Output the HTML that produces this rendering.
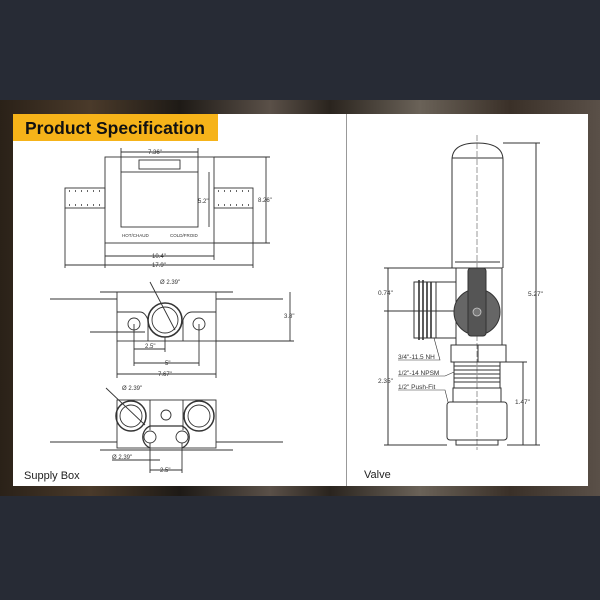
<!DOCTYPE html>
<html><head><meta charset="utf-8"><style>
html,body{margin:0;padding:0;width:600px;height:600px;overflow:hidden;background:#272b35;font-family:"Liberation Sans",sans-serif}
.band{position:absolute;left:0;top:100px;width:600px;height:396px;background:linear-gradient(90deg,#2a2118 0%,#4a3a2a 15%,#1e1a16 30%,#5a5048 45%,#2a241e 55%,#6a6258 70%,#3a3028 85%,#5a5048 100%)}
svg{position:absolute;left:0;top:0}
</style></head><body>
<div class="band"></div>
<svg width="600" height="600" viewBox="0 0 600 600" font-family="Liberation Sans, sans-serif">
<rect x="13" y="114" width="575" height="372" fill="#fff"/>
<line x1="346.5" y1="114" x2="346.5" y2="486" stroke="#999" stroke-width="1"/>
<rect x="13" y="114" width="205" height="27" fill="#f6b319"/>
<text x="25" y="134" font-size="17.5" font-weight="bold" fill="#111">Product Specification</text>

<g stroke="#333" stroke-width="0.9" fill="none">
<!-- top view -->
<rect x="105" y="157" width="109" height="86"/>
<rect x="121" y="172" width="77" height="55"/>
<rect x="139" y="160" width="41" height="9"/>
<rect x="65" y="188" width="40" height="20"/>
<rect x="214" y="188" width="39" height="20"/>
<path d="M69 191h1M75 191h1M81 191h1M87 191h1M93 191h1M99 191h1M69 205h1M75 205h1M81 205h1M87 205h1M93 205h1M99 205h1M218 191h1M224 191h1M230 191h1M236 191h1M242 191h1M248 191h1M218 205h1M224 205h1M230 205h1M236 205h1M242 205h1M248 205h1" stroke-width="1.5"/>
<line x1="121" y1="152" x2="198" y2="152"/><line x1="121" y1="148" x2="121" y2="172"/><line x1="198" y1="148" x2="198" y2="172"/>
<line x1="209" y1="172" x2="209" y2="227"/>
<line x1="266" y1="157" x2="266" y2="243"/><line x1="214" y1="157" x2="270" y2="157"/><line x1="214" y1="243" x2="270" y2="243"/>
<line x1="105" y1="256" x2="214" y2="256"/><line x1="105" y1="243" x2="105" y2="268"/><line x1="214" y1="243" x2="214" y2="260"/>
<line x1="65" y1="265" x2="253" y2="265"/><line x1="65" y1="208" x2="65" y2="268"/><line x1="253" y1="208" x2="253" y2="268"/>
<!-- front view -->
<line x1="100" y1="292" x2="233" y2="292"/>
<line x1="50" y1="299" x2="117" y2="299"/><line x1="216" y1="299" x2="283" y2="299"/>
<rect x="117" y="292" width="99" height="49"/>
<path d="M117 312 H140 Q145 312 148 320 V341 M216 312 H192 Q186 312 183 320 V341"/>
<circle cx="165" cy="320" r="17" stroke-width="1.6"/><circle cx="165" cy="320" r="13"/>
<circle cx="134" cy="324" r="6"/><circle cx="199" cy="324" r="6"/>
<line x1="90" y1="332" x2="145" y2="332"/>
<line x1="290" y1="292" x2="290" y2="341"/><line x1="216" y1="341" x2="294" y2="341"/>
<line x1="134" y1="349" x2="165" y2="349"/><line x1="134" y1="324" x2="134" y2="366"/><line x1="165" y1="337" x2="165" y2="352"/>
<line x1="134" y1="363" x2="199" y2="363"/><line x1="199" y1="324" x2="199" y2="366"/>
<line x1="117" y1="374" x2="216" y2="374"/><line x1="117" y1="341" x2="117" y2="378"/><line x1="216" y1="341" x2="216" y2="378"/>
<line x1="150" y1="282" x2="175" y2="330"/>
<!-- bottom view -->
<rect x="117" y="400" width="99" height="48"/>
<line x1="150" y1="400" x2="150" y2="430"/><line x1="183" y1="400" x2="183" y2="430"/>
<circle cx="131" cy="416" r="15" stroke-width="1.5"/><circle cx="131" cy="416" r="11"/>
<circle cx="199" cy="416" r="15" stroke-width="1.5"/><circle cx="199" cy="416" r="11"/>
<circle cx="166" cy="415" r="5"/>
<path d="M150 448 A12 12 0 0 1 150 426 H182 A12 12 0 0 1 182 448" stroke-width="1.3"/>
<circle cx="150" cy="437" r="6"/><circle cx="182" cy="437" r="6"/>
<line x1="50" y1="442" x2="117" y2="442"/><line x1="216" y1="442" x2="283" y2="442"/>
<line x1="100" y1="450" x2="233" y2="450"/>
<line x1="106" y1="388" x2="145" y2="425"/>
<line x1="112" y1="460" x2="160" y2="460"/>
<line x1="150" y1="470" x2="182" y2="470"/><line x1="150" y1="443" x2="150" y2="473"/><line x1="182" y1="443" x2="182" y2="473"/>
</g>
<g font-size="6" fill="#333">
<text x="148" y="154">7.36"</text>
<text x="198" y="203">5.2"</text>
<text x="258" y="202">8.26"</text>
<text x="152" y="258">10.4"</text>
<text x="152" y="267">17.9"</text>
<text x="122" y="237" font-size="4.5">HOT/CHAUD</text>
<text x="170" y="237" font-size="4.5">COLD/FROID</text>
<text x="160" y="284">Ø 2.39"</text>
<text x="284" y="318">3.8"</text>
<text x="145" y="348">2.5"</text>
<text x="165" y="365">5"</text>
<text x="158" y="376">7.67"</text>
<text x="122" y="390">Ø 2.39"</text>
<text x="112" y="459">Ø 2.39"</text>
<text x="160" y="472">2.5"</text>
</g>
<text x="24" y="479" font-size="11" fill="#222">Supply Box</text>

<!-- valve -->
<g stroke="#333" stroke-width="1" fill="none">
<path d="M452 268 V160 Q452 143 477 143 Q503 143 503 160 V268"/>
<line x1="452" y1="158" x2="503" y2="158"/>
<line x1="455" y1="262" x2="500" y2="262"/>
<rect x="456" y="268" width="46" height="77"/>
<rect x="436" y="282" width="20" height="56"/>
<path d="M414 282 H436 V338 H414 Z"/>
<path d="M419 280 V340 M423 280 V340 M427 282 V338 M431 282 V338" stroke-width="1.6"/>
<rect x="451" y="345" width="55" height="17"/><line x1="478" y1="345" x2="478" y2="362"/>
<rect x="454" y="362" width="46" height="26"/>
<path d="M454 366 H500 M454 370 H500 M454 374 H500 M454 378 H500 M454 382 H500"/>
<rect x="453" y="388" width="48" height="14"/>
<rect x="447" y="402" width="60" height="38" rx="3"/>
<rect x="456" y="440" width="42" height="5"/>
<line x1="477" y1="135" x2="477" y2="450" stroke-dasharray="6 2" stroke-width="0.5"/>
<line x1="536" y1="143" x2="536" y2="445"/><line x1="503" y1="143" x2="540" y2="143"/><line x1="507" y1="445" x2="540" y2="445"/>
<line x1="523" y1="362" x2="523" y2="445"/><line x1="506" y1="362" x2="527" y2="362"/>
<line x1="388" y1="268" x2="388" y2="445"/><line x1="384" y1="268" x2="456" y2="268"/><line x1="384" y1="311" x2="456" y2="311"/><line x1="384" y1="445" x2="447" y2="445"/>
<path d="M398 360 H440 L434 338 M398 376 H445 L454 372 M398 390 H445 L448 402" stroke-width="0.6"/>
</g>
<circle cx="477" cy="312" r="23" fill="#666" stroke="#333"/>
<rect x="468" y="268" width="18" height="68" rx="3" fill="#555" stroke="#333"/>
<circle cx="477" cy="312" r="4" fill="#777" stroke="#ccc" stroke-width="0.8"/>
<g font-size="6.5" fill="#333">
<text x="378" y="295">0.74"</text>
<text x="528" y="296">5.27"</text>
<text x="378" y="383">2.35"</text>
<text x="515" y="404">1.47"</text>
<text x="398" y="359">3/4"-11.5 NH</text>
<text x="398" y="375">1/2"-14 NPSM</text>
<text x="398" y="389">1/2" Push-Fit</text>
</g>
<text x="364" y="478" font-size="11" fill="#222">Valve</text>
</svg>
</body></html>
